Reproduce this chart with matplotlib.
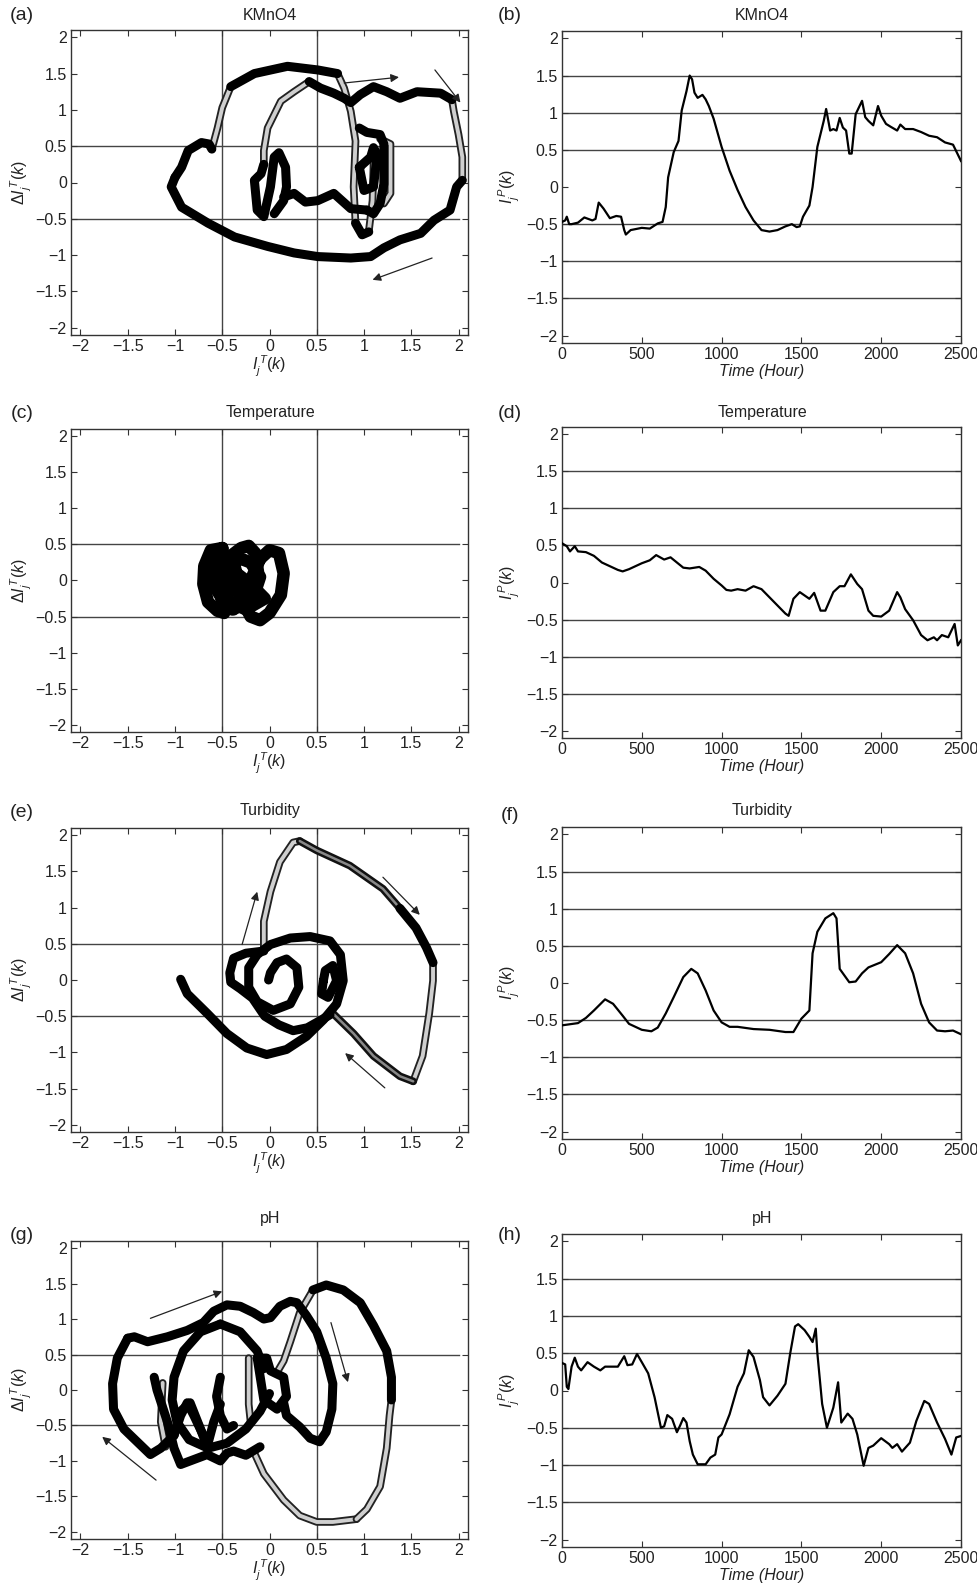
"""Phase plots and time series of water-quality indices (KMnO4, Temperature, Turbidity, pH)."""

import matplotlib
matplotlib.use("Agg")
import matplotlib.pyplot as plt

plt.rcParams["font.family"] = ["Liberation Sans", "DejaVu Sans"]
plt.rcParams["mathtext.fontset"] = "custom"
plt.rcParams["mathtext.rm"] = "Liberation Sans"
plt.rcParams["mathtext.it"] = "Liberation Sans:italic"

# ---------------- time series (right column) ----------------
kmno4_hours = [0, 20, 30, 45, 60, 100, 140, 190, 210, 230, 260, 300, 340, 370, 390, 400, 430, 500, 550, 600,
               630, 650, 665, 700, 730, 750, 780, 800, 815, 830, 850, 880, 900, 920, 950, 1000, 1050, 1100, 1150, 1200,
               1250, 1300, 1350, 1400, 1440, 1470, 1490, 1510, 1550, 1570, 1600, 1640, 1655, 1680, 1700, 1720, 1740,
               1760, 1780, 1800, 1815, 1840, 1880, 1900, 1920, 1950, 1980, 2000, 2030, 2060, 2100, 2120, 2150, 2200,
               2250, 2300, 2350, 2400, 2450, 2500]
kmno4_index = [-0.47, -0.45, -0.40, -0.50, -0.50, -0.48, -0.41, -0.45, -0.43, -0.21, -0.29, -0.42, -0.39, -0.40,
               -0.58, -0.64, -0.58, -0.55, -0.56, -0.49, -0.47, -0.27, 0.13, 0.47, 0.62, 1.03, 1.29, 1.50, 1.45, 1.27,
               1.20, 1.24, 1.18, 1.09, 0.92, 0.54, 0.22, -0.04, -0.27, -0.45, -0.58, -0.60, -0.58, -0.53, -0.50, -0.54,
               -0.53, -0.40, -0.25, 0.00, 0.54, 0.89, 1.05, 0.76, 0.78, 0.76, 0.93, 0.80, 0.76, 0.45, 0.45, 0.98, 1.16,
               0.94, 0.89, 0.83, 1.09, 0.96, 0.85, 0.81, 0.76, 0.84, 0.78, 0.78, 0.74, 0.69, 0.67, 0.60, 0.57, 0.35]

temp_hours = [0, 30, 50, 80, 100, 150, 200, 250, 300, 350, 380, 420, 500, 550, 590, 640, 680, 720, 760, 800, 860,
              900, 950, 1000, 1030, 1060, 1100, 1150, 1200, 1250, 1300, 1350, 1400, 1420, 1450, 1490, 1550, 1580,
              1620, 1650, 1700, 1740, 1770, 1810, 1850, 1880, 1920, 1950, 2000, 2050, 2100, 2120, 2150, 2200, 2250,
              2290, 2330, 2350, 2380, 2420, 2460, 2480, 2500]
temp_index = [0.53, 0.49, 0.42, 0.49, 0.42, 0.41, 0.36, 0.27, 0.22, 0.17, 0.15, 0.18, 0.26, 0.30, 0.37, 0.31, 0.34,
              0.27, 0.20, 0.19, 0.21, 0.16, 0.05, -0.04, -0.10, -0.11, -0.09, -0.11, -0.05, -0.09, -0.20, -0.31,
              -0.42, -0.45, -0.22, -0.13, -0.22, -0.14, -0.38, -0.38, -0.13, -0.05, -0.05, 0.11, -0.02, -0.09, -0.38,
              -0.45, -0.46, -0.38, -0.13, -0.20, -0.36, -0.51, -0.71, -0.78, -0.74, -0.78, -0.71, -0.74, -0.56,
              -0.85, -0.78]

turb_hours = [0, 100, 150, 200, 270, 320, 380, 420, 500, 560, 600, 650, 700, 760, 810, 850, 900, 950, 1000, 1050,
              1100, 1200, 1300, 1400, 1450, 1500, 1550, 1570, 1600, 1650, 1700, 1720, 1740, 1800, 1840, 1880, 1920,
              2000, 2050, 2100, 2150, 2200, 2250, 2300, 2350, 2400, 2450, 2500]
turb_index = [-0.57, -0.54, -0.47, -0.37, -0.22, -0.28, -0.44, -0.55, -0.63, -0.65, -0.60, -0.41, -0.19, 0.08, 0.19,
              0.13, -0.10, -0.37, -0.53, -0.59, -0.59, -0.62, -0.63, -0.66, -0.66, -0.48, -0.37, 0.40, 0.69, 0.87,
              0.94, 0.87, 0.19, 0.01, 0.02, 0.13, 0.21, 0.28, 0.39, 0.51, 0.40, 0.13, -0.28, -0.53, -0.64, -0.65,
              -0.64, -0.69]

ph_hours = [0, 20, 30, 40, 60, 80, 100, 120, 160, 200, 240, 270, 350, 390, 410, 440, 470, 500, 540, 580, 620, 640,
            660, 690, 720, 740, 760, 780, 800, 820, 850, 900, 930, 960, 980, 1000, 1050, 1100, 1140, 1170, 1200,
            1240, 1260, 1300, 1350, 1400, 1430, 1460, 1480, 1520, 1550, 1570, 1590, 1600, 1630, 1660, 1700, 1730,
            1750, 1790, 1820, 1850, 1890, 1920, 1950, 2000, 2050, 2070, 2100, 2130, 2180, 2220, 2270, 2300, 2350,
            2400, 2440, 2470, 2500]
ph_index = [0.37, 0.35, 0.05, 0.02, 0.32, 0.44, 0.32, 0.27, 0.38, 0.32, 0.27, 0.32, 0.32, 0.46, 0.34, 0.35, 0.49,
            0.38, 0.23, -0.09, -0.50, -0.48, -0.33, -0.38, -0.56, -0.47, -0.37, -0.43, -0.68, -0.86, -0.99, -0.99,
            -0.90, -0.86, -0.63, -0.59, -0.32, 0.05, 0.23, 0.54, 0.45, 0.14, -0.09, -0.20, -0.07, 0.09, 0.50, 0.86,
            0.89, 0.81, 0.72, 0.65, 0.83, 0.50, -0.18, -0.50, -0.23, 0.11, -0.43, -0.31, -0.38, -0.59, -1.01,
            -0.77, -0.74, -0.64, -0.72, -0.77, -0.72, -0.82, -0.70, -0.41, -0.14, -0.18, -0.43, -0.65, -0.86,
            -0.63, -0.61]

# ---------------- phase trajectories (left column): (I_T list, dI_T list) ----------------
kmno4_dark = [
    ([-1.00, -1.04, -0.93, -0.65, -0.37, -0.02, 0.26, 0.51, 0.86, 1.07, 1.21, 1.38, 1.60, 1.74, 1.91, 1.98, 2.04],
     [0.07, -0.06, -0.34, -0.56, -0.75, -0.88, -0.97, -1.02, -1.04, -1.02, -0.90, -0.79, -0.70, -0.52, -0.38, -0.06, 0.03]),
    ([-1.00, -0.93, -0.86, -0.72, -0.64, -0.61], [0.07, 0.21, 0.44, 0.55, 0.53, 0.46]),
    ([-0.41, -0.16, 0.19, 0.51, 0.72], [1.32, 1.50, 1.60, 1.55, 1.50]),
    ([1.93, 1.81, 1.56, 1.38, 1.24, 1.10, 0.96, 0.86, 0.79, 0.68, 0.54, 0.42],
     [1.14, 1.23, 1.25, 1.16, 1.25, 1.32, 1.21, 1.10, 1.16, 1.23, 1.30, 1.39]),
    ([-0.06, -0.09, -0.16, -0.13, -0.06, 0.01, 0.05, 0.10, 0.17, 0.18, 0.15, 0.05],
     [0.25, 0.12, 0.03, -0.38, -0.47, -0.06, 0.35, 0.41, 0.21, -0.06, -0.25, -0.43]),
    ([0.15, 0.26, 0.38, 0.51, 0.68, 0.86, 1.03], [-0.20, -0.15, -0.27, -0.25, -0.15, -0.36, -0.38]),
    ([0.95, 1.03, 1.17, 1.21, 1.21, 1.17, 1.10, 1.03], [0.75, 0.69, 0.66, 0.53, -0.02, -0.29, -0.43, -0.38]),
    ([0.95, 1.07, 1.10, 1.14, 1.10, 1.00, 0.95], [0.21, 0.35, 0.48, 0.39, -0.06, -0.11, 0.21]),
    ([0.91, 0.98, 1.05], [-0.56, -0.72, -0.68]),
]
kmno4_light = [
    ([2.04, 2.04, 2.00, 1.95, 1.93], [0.03, 0.35, 0.66, 0.98, 1.14]),
    ([-0.61, -0.55, -0.50, -0.41], [0.46, 0.75, 1.03, 1.32]),
    ([0.72, 0.79, 0.86, 0.91, 0.89, 0.91], [1.50, 1.30, 0.98, 0.57, -0.06, -0.56]),
    ([0.42, 0.26, 0.12, -0.02, -0.06, -0.06], [1.39, 1.25, 1.12, 0.75, 0.44, 0.25]),
    ([1.05, 1.09, 1.10, 1.10], [-0.68, -0.25, 0.21, 0.48]),
    ([1.17, 1.28, 1.28, 1.21], [0.60, 0.53, -0.15, -0.29]),
]
kmno4_mid = []

temp_dark = [
    ([-0.50, -0.62, -0.69, -0.70, -0.65, -0.55, -0.48, -0.45, -0.48, -0.50],
     [0.45, 0.42, 0.20, -0.05, -0.30, -0.42, -0.45, -0.20, 0.10, 0.45]),
    ([-0.35, -0.40, -0.30, -0.22, -0.15, -0.12, -0.20, -0.30, -0.40, -0.45, -0.40, -0.35],
     [0.10, 0.35, 0.45, 0.48, 0.38, 0.10, -0.20, -0.35, -0.40, -0.25, 0.00, 0.10]),
    ([-0.10, 0.00, 0.10, 0.15, 0.12, 0.00, -0.10, -0.20, -0.28, -0.20, -0.10],
     [0.30, 0.42, 0.38, 0.10, -0.20, -0.45, -0.55, -0.50, -0.30, 0.00, 0.30]),
    ([-0.45, -0.30, -0.20, -0.10, -0.15, -0.30, -0.45], [0.20, 0.30, 0.25, 0.05, -0.15, -0.10, 0.20]),
    ([-0.60, -0.52, -0.42, -0.35, -0.30, -0.38, -0.50, -0.60], [0.25, 0.35, 0.20, -0.05, -0.30, -0.40, -0.30, 0.25]),
    ([-0.65, -0.40, -0.20, -0.05, -0.25, -0.50, -0.65], [0.05, 0.15, -0.05, -0.25, -0.40, -0.25, 0.05]),
]
temp_light = []
temp_mid = []

turb_dark = [
    ([-0.94, -0.87, -0.66, -0.45, -0.24, -0.03, 0.18, 0.39, 0.57, 0.71, 0.78, 0.75, 0.64, 0.43, 0.22, 0.01,
      -0.13, -0.22, -0.22, -0.13, 0.04, 0.22, 0.31, 0.29, 0.18, 0.08, 0.01, -0.01],
     [0.01, -0.19, -0.46, -0.74, -0.94, -1.03, -0.96, -0.78, -0.55, -0.33, -0.01, 0.35, 0.54, 0.60, 0.58, 0.49,
      0.35, 0.17, -0.10, -0.30, -0.42, -0.33, -0.10, 0.17, 0.29, 0.24, 0.10, 0.00]),
    ([-0.06, -0.25, -0.38, -0.42, -0.41, -0.31, -0.18, -0.05, 0.10, 0.25, 0.40, 0.55, 0.64],
     [0.40, 0.37, 0.30, 0.10, -0.03, -0.12, -0.25, -0.50, -0.62, -0.70, -0.66, -0.55, -0.48]),
    ([0.57, 0.59, 0.67, 0.71, 0.62, 0.55, 0.57], [-0.01, 0.13, 0.20, -0.01, -0.24, -0.19, -0.01]),
    ([1.38, 1.55, 1.66, 1.73], [0.99, 0.72, 0.45, 0.24]),
]
turb_mid = [
    ([0.32, 0.50, 0.85, 1.20, 1.38], [1.92, 1.79, 1.58, 1.26, 0.99]),
    ([1.52, 1.38, 1.10, 0.89, 0.67], [-1.40, -1.33, -1.05, -0.74, -0.46]),
]
turb_light = [
    ([-0.06, -0.06, 0.01, 0.11, 0.25, 0.32], [0.45, 0.81, 1.22, 1.63, 1.90, 1.92]),
    ([1.73, 1.73, 1.69, 1.62, 1.52], [0.24, -0.01, -0.46, -1.05, -1.40]),
]

ph_dark = [
    ([-1.50, -1.43, -1.29, -1.08, -0.87, -0.70, -0.59, -0.45, -0.31, -0.17, -0.06, 0.01, 0.11, 0.22, 0.29, 0.39,
      0.50, 0.60, 0.67, 0.66, 0.60, 0.53, 0.43, 0.32, 0.18, 0.15],
     [0.73, 0.75, 0.68, 0.75, 0.84, 0.95, 1.11, 1.20, 1.18, 1.09, 1.00, 1.02, 1.18, 1.25, 1.23, 1.05, 0.82, 0.45,
      0.09, -0.27, -0.59, -0.73, -0.68, -0.52, -0.36, -0.18]),
    ([-1.50, -1.61, -1.66, -1.65, -1.54, -1.40, -1.26, -1.15, -1.01, -0.94, -0.87, -0.80, -0.70],
     [0.73, 0.45, 0.09, -0.27, -0.55, -0.73, -0.91, -0.82, -0.64, -0.36, -0.18, -0.36, -0.64]),
    ([-0.52, -0.73, -0.91, -1.01, -1.03, -0.98, -0.85, -0.65, -0.45, -0.25, -0.10, 0.00],
     [0.93, 0.82, 0.55, 0.18, -0.14, -0.45, -0.70, -0.82, -0.75, -0.55, -0.30, -0.05]),
    ([-0.52, -0.31, -0.13, -0.06], [0.93, 0.82, 0.55, 0.30]),
    ([-1.22, -1.19, -1.08, -1.01, -0.94, -0.84, -0.66, -0.52, -0.45, -0.38, -0.25, -0.10],
     [0.18, 0.00, -0.45, -0.82, -1.05, -1.00, -0.91, -1.00, -0.89, -0.86, -0.92, -0.80]),
    ([-1.01, -0.94, -0.84, -0.73, -0.66, -0.59, -0.52], [-0.64, -0.30, -0.18, -0.55, -0.80, -0.45, -0.20]),
    ([-0.13, -0.03, 0.01, 0.15, 0.18, 0.08, -0.06, -0.13], [0.45, 0.45, 0.27, 0.18, -0.09, -0.27, -0.14, 0.45]),
    ([1.29, 1.29, 1.24, 1.10, 0.96, 0.78, 0.60, 0.46], [-0.14, 0.18, 0.55, 0.91, 1.23, 1.41, 1.48, 1.41]),
    ([-0.52, -0.56, -0.52, -0.45, -0.38], [0.18, -0.09, -0.36, -0.55, -0.50]),
]
ph_light = [
    ([-0.17, -0.06, 0.15, 0.32, 0.50, 0.67, 0.92], [-0.86, -1.18, -1.55, -1.77, -1.86, -1.86, -1.82]),
    ([0.92, 1.03, 1.17, 1.24, 1.27, 1.29], [-1.82, -1.68, -1.36, -0.82, -0.36, -0.14]),
    ([0.46, 0.32, 0.22, 0.15, 0.08], [1.41, 1.09, 0.68, 0.41, 0.25]),
    ([-0.22, -0.22, -0.20], [0.45, -0.20, -0.45]),
    ([-1.13, -1.15, -1.10], [0.10, -0.45, -0.80]),
]
ph_mid = []

# direction arrows: (x_start, y_start, x_end, y_end)
kmno4_arrows = [(0.79, 1.37, 1.37, 1.45), (1.75, 1.55, 2.02, 1.10), (1.72, -1.04, 1.09, -1.34)]
temp_arrows = []
turb_arrows = [(-0.29, 0.49, -0.13, 1.22), (1.20, 1.42, 1.59, 0.90), (1.22, -1.49, 0.80, -1.01)]
ph_arrows = [(-1.26, 1.01, -0.50, 1.39), (0.65, 0.95, 0.83, 0.11), (-1.20, -1.27, -1.77, -0.66)]

panels = [
    ("KMnO4", kmno4_dark, kmno4_mid, kmno4_light, kmno4_arrows, kmno4_hours, kmno4_index),
    ("Temperature", temp_dark, temp_mid, temp_light, temp_arrows, temp_hours, temp_index),
    ("Turbidity", turb_dark, turb_mid, turb_light, turb_arrows, turb_hours, turb_index),
    ("pH", ph_dark, ph_mid, ph_light, ph_arrows, ph_hours, ph_index),
]
letters = ["(a)", "(b)", "(c)", "(d)", "(e)", "(f)", "(g)", "(h)"]

W, H = 978, 1587
LEFT_BOX = [(71, 30, 468, 335), (71, 429, 468, 732), (71, 828, 468, 1132), (71, 1241, 468, 1539)]
RIGHT_BOX = [(562, 31, 961, 343), (562, 427, 961, 738), (562, 827, 961, 1139), (562, 1234, 961, 1547)]
TITLE_Y = [15, 412, 811, 1218]
LETTER_Y = [(15, 15), (413, 413), (812, 815), (1235, 1235)]
INK = "#222222"
FS = 11.5


def _fmt(v):
    s = f"{v:g}"
    return s.replace("-", "\u2212")


def _add_axes(fig, box):
    x0, y0, x1, y1 = box
    return fig.add_axes([x0 / W, 1 - y1 / H, (x1 - x0) / W, (y1 - y0) / H])


def _style(ax, xticks):
    yticks = [-2, -1.5, -1, -0.5, 0, 0.5, 1, 1.5, 2]
    ax.set_ylim(-2.1, 2.1)
    ax.set_yticks(yticks)
    ax.set_yticklabels([_fmt(v) for v in yticks])
    ax.set_xticks(xticks)
    ax.set_xticklabels([_fmt(v) for v in xticks])
    ax.tick_params(direction="in", top=True, right=True, length=4, width=0.8,
                   labelsize=FS, colors="#333333", labelcolor=INK, pad=3)
    for sp in ax.spines.values():
        sp.set_linewidth(1.0)
        sp.set_color("#333333")


def draw_phase(ax, dark, mid, light, arrows):
    ax.set_xlim(-2.1, 2.1)
    _style(ax, [-2, -1.5, -1, -0.5, 0, 0.5, 1, 1.5, 2])
    for v in (-0.5, 0.5):
        ax.plot([-2.1, 2.0], [v, v], color="#444444", lw=1.0, zorder=1)
        ax.plot([v, v], [-2.1, 2.1], color="#444444", lw=1.0, zorder=1)
    kw = dict(solid_capstyle="round", solid_joinstyle="round")
    for xs, ys in light:
        ax.plot(xs, ys, color="#222222", lw=5.5, zorder=2, **kw)
        ax.plot(xs, ys, color="#cfcfcf", lw=2.8, zorder=2, **kw)
    for xs, ys in mid:
        ax.plot(xs, ys, color="#111111", lw=5.5, zorder=3, **kw)
        ax.plot(xs, ys, color="#888888", lw=1.8, zorder=3, **kw)
    lw_dark = 9 if not light else 6.5
    for xs, ys in dark:
        ax.plot(xs, ys, color="black", lw=lw_dark, zorder=4, **kw)
    for x0, y0, x1, y1 in arrows:
        ax.annotate("", xy=(x1, y1), xytext=(x0, y0),
                    arrowprops=dict(arrowstyle="-|>", color="#222222", lw=0.9,
                                    mutation_scale=12, shrinkA=0, shrinkB=0), zorder=5)
    ax.set_xlabel(r"$I_j^{\,T}(k)$", fontsize=FS, color=INK, labelpad=0)
    ax.set_ylabel(r"$\Delta I_j^{\,T}(k)$", fontsize=FS, color=INK, labelpad=1)


def draw_series(ax, hours, index):
    ax.set_xlim(0, 2500)
    _style(ax, [0, 500, 1000, 1500, 2000, 2500])
    for v in (-1.5, -1, -0.5, 0.5, 1, 1.5):
        ax.axhline(v, color="#444444", lw=1.0, zorder=1)
    ax.plot(hours, index, color="black", lw=1.6, zorder=3)
    ax.set_xlabel("Time (Hour)", fontsize=FS, fontstyle="italic", color=INK, labelpad=1)
    ax.set_ylabel(r"$I_j^{\,P}(k)$", fontsize=FS, color=INK, labelpad=3)


fig = plt.figure(figsize=(W / 100, H / 100), dpi=100)
for i, (name, dark, mid, light, arrows, hours, index) in enumerate(panels):
    axl = _add_axes(fig, LEFT_BOX[i])
    draw_phase(axl, dark, mid, light, arrows)
    axr = _add_axes(fig, RIGHT_BOX[i])
    draw_series(axr, hours, index)
    ty = 1 - TITLE_Y[i] / H
    fig.text(270 / W, ty, name, ha="center", va="center", fontsize=11.5, color=INK)
    fig.text(762 / W, ty, name, ha="center", va="center", fontsize=11.5, color=INK)
    fig.text(22 / W, 1 - LETTER_Y[i][0] / H, letters[2 * i], ha="center", va="center", fontsize=14, color=INK)
    fig.text(510 / W, 1 - LETTER_Y[i][1] / H, letters[2 * i + 1], ha="center", va="center", fontsize=14, color=INK)

fig.savefig("out.png", dpi=100)
